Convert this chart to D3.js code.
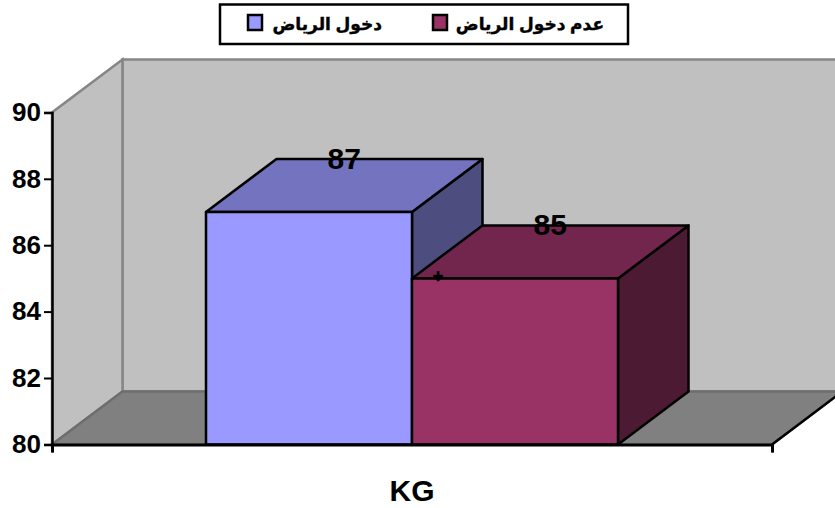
<!DOCTYPE html>
<html lang="en">
    <head>
        <meta charset="utf-8">
        <title>KG</title>
        <script type="text/javascript" src="https://cdn.jsdelivr.net/npm/d3@7"></script>
        <style>
            html,body{margin:0;padding:0;background:#fff;overflow:hidden}
            svg{display:block}
        </style>
    </head>
    <body>
        <script type="text/javascript">
            const categories = ["KG"]
            const seriesNames = ["دخول الرياض","عدم دخول الرياض"]
            const seriesValues = [87,85]
            const seriesColors = ["#9999FF","#993366"]
            const topColors = ["#7373BF","#73264D"]
            const sideColors = ["#4D4D80","#4D1A33"]
            const yTicks = [80,82,84,86,88,90]

            const w = 835
            const h = 508
            const dx = 70.5
            const dy = -53
            const latin = "'Liberation Sans',Arial,sans-serif"
            const arabic = "'Liberation Sans','DejaVu Sans',sans-serif"

            let svg = d3.select("body")
                        .append("svg")
                            .attr("width",w)
                            .attr("height",h)

            let clip = svg.append("defs").append("clipPath").attr("id","page")
            clip.append("rect").attr("width",w).attr("height",h)

            let x = d3.scaleBand().domain(categories).range([52,772])
            let y = d3.scaleLinear().domain([80,90]).range([444.4,112.4])
            let inner = d3.scaleBand().domain(seriesNames)
                          .range([x("KG")+154,x("KG")+x.bandwidth()-154])

            function poly(points){
                return points.map(p=>p.join(",")).join(" ")
            }

            let x0 = x.range()[0]
            let x1 = x.range()[1]
            let y0 = y(80)
            let y1 = y(90)
            let chart = svg.append("g").attr("clip-path","url(#page)")

            // back wall, side wall, floor
            chart.append("polygon")
                .attr("points",poly([[x0+dx,y0+dy],[x0+dx,y1+dy],[x1+dx,y1+dy],[x1+dx,y0+dy]]))
                .attr("fill","#C0C0C0").attr("stroke","#868686").attr("stroke-width",2.5)
            chart.append("polygon")
                .attr("points",poly([[x0,y0],[x0,y1],[x0+dx,y1+dy],[x0+dx,y0+dy]]))
                .attr("fill","#C0C0C0").attr("stroke","#868686").attr("stroke-width",2.5)
            chart.append("polygon")
                .attr("points",poly([[x0,y0],[x0+dx,y0+dy],[x1+dx,y0+dy],[x1,y0]]))
                .attr("fill","#808080").attr("stroke","#6E6E6E").attr("stroke-width",2.5)
            chart.append("line")
                .attr("x1",x1).attr("y1",y0).attr("x2",x1+dx).attr("y2",y0+dy)
                .attr("stroke","#000").attr("stroke-width",2.5)

            // bars: front, top and side faces
            seriesNames.forEach((name,i)=>{
                let a = inner(name)
                let b = a+inner.bandwidth()
                let t = y(seriesValues[i])
                let bar = chart.append("g")
                               .attr("stroke","#000")
                               .attr("stroke-width",2.5)
                               .attr("stroke-linejoin","round")
                bar.append("polygon")
                    .attr("points",poly([[b,t],[b+dx,t+dy],[b+dx,y0+dy],[b,y0]]))
                    .attr("fill",sideColors[i])
                bar.append("polygon")
                    .attr("points",poly([[a,t],[a+dx,t+dy],[b+dx,t+dy],[b,t]]))
                    .attr("fill",topColors[i])
                bar.append("rect")
                    .attr("x",a).attr("y",t)
                    .attr("width",b-a).attr("height",y0-t)
                    .attr("fill",seriesColors[i])
            })

            // axes
            let yAxis = d3.axisLeft(y).tickValues(yTicks).tickSize(8).tickPadding(3)
            let yg = svg.append("g").attr("transform",`translate(${x0},0)`).call(yAxis)
            yg.selectAll("path").attr("stroke","#000").attr("stroke-width",2.5)
            yg.selectAll("line").attr("stroke","#000").attr("stroke-width",2)
            yg.selectAll("text")
                .attr("fill","#000")
                .attr("font-family",latin)
                .attr("font-size","26px")
                .attr("font-weight","bold")

            let xAxis = d3.axisBottom(d3.scaleLinear().domain([0,1]).range([x0,x1]))
                          .tickValues([0,1]).tickSize(8).tickFormat("")
            let xg = svg.append("g").attr("transform",`translate(0,${y0})`).call(xAxis)
            xg.selectAll("path").attr("stroke","#000").attr("stroke-width",3)
            xg.selectAll("line").attr("stroke","#000").attr("stroke-width",2)

            svg.append("text")
                .attr("x",x("KG")+x.bandwidth()/2)
                .attr("y",501)
                .attr("text-anchor","middle")
                .attr("font-family",latin)
                .attr("font-size","30px")
                .attr("font-weight","bold")
                .text(categories[0])

            // value labels sit on the back edge of each bar top
            seriesNames.forEach((name,i)=>{
                svg.append("text")
                    .attr("x",inner(name)+inner.bandwidth()/2+dx/2)
                    .attr("y",y(seriesValues[i])+dy+10)
                    .attr("text-anchor","middle")
                    .attr("font-family",latin)
                    .attr("font-size","30px")
                    .attr("font-weight","bold")
                    .text(seriesValues[i])
            })

            svg.append("text")
                .attr("x",438)
                .attr("y",282)
                .attr("text-anchor","middle")
                .attr("font-family",latin)
                .attr("font-size","18px")
                .attr("font-weight","bold")
                .attr("stroke","#000")
                .attr("stroke-width",0.5)
                .text("+")

            // legend
            let legend = svg.append("g")
            legend.append("rect")
                .attr("x",220).attr("y",4.5)
                .attr("width",408).attr("height",39.5)
                .attr("fill","#fff").attr("stroke","#000").attr("stroke-width",2.5)

            let legendSwatchX = [248,433]
            let legendTextX = [382,604]
            seriesNames.forEach((name,i)=>{
                legend.append("rect")
                    .attr("x",legendSwatchX[i]).attr("y",15)
                    .attr("width",14).attr("height",15)
                    .attr("fill",seriesColors[i])
                    .attr("stroke","#000").attr("stroke-width",2.5)
                legend.append("text")
                    .attr("x",legendTextX[i])
                    .attr("y",30)
                    .attr("direction","rtl")
                    .attr("text-anchor","start")
                    .attr("font-family",arabic)
                    .attr("font-size","17px")
                    .attr("font-weight","bold")
                    .attr("stroke","#000")
                    .attr("stroke-width",0.4)
                    .text(name)
            })
        </script>
    </body>
</html>
